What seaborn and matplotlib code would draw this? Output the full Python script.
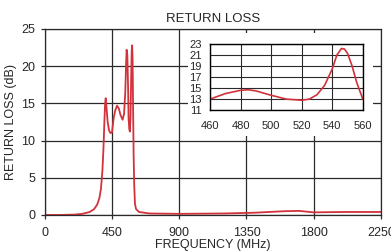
import numpy as np
import pandas as pd
import matplotlib
matplotlib.use("Agg")
import matplotlib.pyplot as plt
from matplotlib.patches import Rectangle
import seaborn as sns

# main sweep
freq_mhz = [0, 100, 200, 250, 300, 330, 350, 365, 375, 385, 392, 398, 403, 407, 412,
            420, 430, 440, 449, 460, 470, 483, 495, 505, 520, 530, 538, 543, 547, 552,
            557, 560, 565, 569, 573, 577, 581, 584, 587, 590, 594, 598, 603, 610, 630,
            700, 900, 1200, 1400, 1600, 1700, 1800, 2000, 2250]
return_loss = [0.0, 0.0, 0.05, 0.15, 0.4, 0.8, 1.4, 2.3, 3.5, 6.0, 9.0, 12.5, 15.0, 15.7, 14.5,
               12.5, 11.3, 11.0, 11.1, 13.0, 14.0, 14.7, 14.3, 13.5, 12.8, 13.6, 16.5, 20.0, 22.2, 21.5,
               17.0, 13.0, 11.5, 11.2, 13.0, 18.0, 22.0, 22.8, 21.0, 15.0, 8.0, 4.0, 1.5, 0.8, 0.4,
               0.2, 0.15, 0.2, 0.3, 0.5, 0.55, 0.35, 0.4, 0.4]

# zoomed passband (inset)
zoom_freq = [460, 470, 480, 485, 490, 500, 510, 520, 525, 530, 535, 540, 543, 546, 548,
             550, 553, 556, 560]
zoom_rl = [13.0, 14.0, 14.6, 14.7, 14.5, 13.7, 13.0, 12.8, 13.0, 13.8, 15.5, 18.5, 21.0, 22.2, 22.1,
           21.3, 19.0, 16.0, 13.0]

x_ticks = [0, 450, 900, 1350, 1800, 2250]
y_ticks = [0, 5, 10, 15, 20, 25]
zoom_x_ticks = [460, 480, 500, 520, 540, 560]
zoom_y_ticks = [11, 13, 15, 17, 19, 21, 23]

sns.set_style("white")
plt.rcParams['font.family'] = ['Liberation Sans', 'DejaVu Sans']

line_color = "#d2323c"
grid_color = "#2a2a2a"

fig = plt.figure(figsize=(3.91, 2.52), dpi=100)
ax = fig.add_axes([0.115, 0.147, 0.859, 0.738])

df = pd.DataFrame({"freq": freq_mhz, "rl": return_loss})
sns.lineplot(data=df, x="freq", y="rl", ax=ax, color=line_color, linewidth=1.3)

ax.set_xlim(0, 2250)
ax.set_ylim(0, 25)
ax.set_xticks(x_ticks)
ax.set_yticks(y_ticks)
ax.grid(True, color=grid_color, linewidth=0.9)
for s in ax.spines.values():
    s.set_color(grid_color)
    s.set_linewidth(0.9)
ax.tick_params(axis="both", direction="out", length=3, width=0.9, color=grid_color,
               labelsize=9, bottom=True, left=True)
ax.tick_params(axis="x", pad=5.5)
ax.tick_params(axis="y", pad=4)
ax.set_xlabel("FREQUENCY (MHz)", fontsize=9, labelpad=0.5)
ax.set_ylabel("RETURN LOSS (dB)", fontsize=9, labelpad=3)
ax.set_title("RETURN LOSS", fontsize=9.5, pad=5)

# white panel behind the inset hides the main grid
ax.add_patch(Rectangle((0.427, 0.425), 0.55, 0.552, transform=ax.transAxes,
                       facecolor="white", edgecolor="none", zorder=3))

# inset
axin = fig.add_axes([0.537, 0.563, 0.391, 0.262])
axin.set_facecolor("white")
zdf = pd.DataFrame({"freq": zoom_freq, "rl": zoom_rl})
sns.lineplot(data=zdf, x="freq", y="rl", ax=axin, color=line_color, linewidth=1.2)
axin.set_xlim(460, 560)
axin.set_ylim(11, 23)
axin.set_xticks(zoom_x_ticks)
axin.set_yticks(zoom_y_ticks)
axin.grid(True, color=grid_color, linewidth=0.8)
for s in axin.spines.values():
    s.set_color("black")
    s.set_linewidth(1.0)
axin.tick_params(axis="both", length=0, labelsize=8)
axin.tick_params(axis="x", pad=8)
axin.tick_params(axis="y", pad=6)
axin.set_xlabel("")
axin.set_ylabel("")

fig.savefig("out.png", dpi=100)
